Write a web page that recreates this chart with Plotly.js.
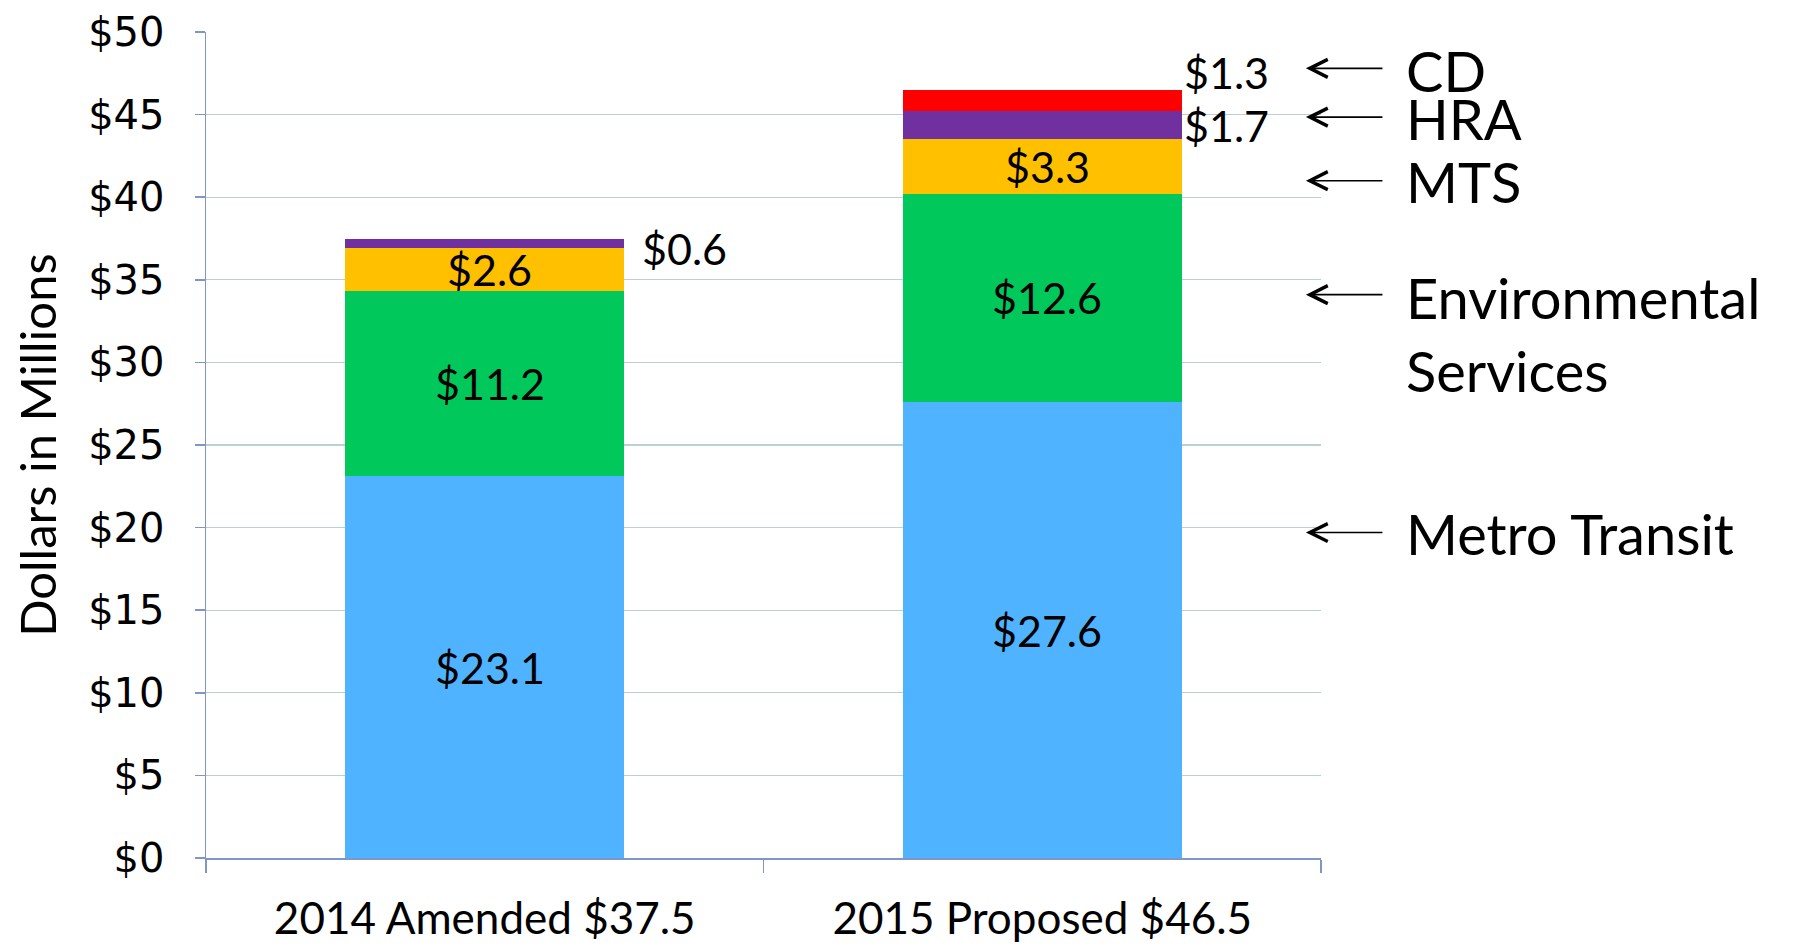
<!DOCTYPE html>
<html>
<head>
<meta charset="utf-8">
<script src="https://cdn.plot.ly/plotly-3.0.1.min.js"></script>
<style>
  html, body { margin: 0; padding: 0; background: #ffffff; }
  #chart { width: 1797px; height: 952px; }
</style>
</head>
<body>
<div id="chart"></div>
<script>
// ---- Data ----
const categories = ["2014 Amended $37.5", "2015 Proposed $46.5"];
const metroTransit = [23.1, 27.6];
const environmentalServices = [11.2, 12.6];
const mts = [2.6, 3.3];
const hra = [0.6, 1.7];
const cd = [0, 1.3];
const yTickValues = [0, 5, 10, 15, 20, 25, 30, 35, 40, 45, 50];
const yTickLabels = ["$0", "$5", "$10", "$15", "$20", "$25", "$30", "$35", "$40", "$45", "$50"];
const seriesNames = ["Metro Transit", "Environmental Services", "MTS", "HRA", "CD"];
const sideLabels = ["CD", "HRA", "MTS", "Environmental<br>Services", "Metro Transit"];

// ---- Styles ----
const colors = ["#4FB3FF", "#00C85A", "#FFC000", "#7030A0", "#FF0000"];
const labelFont = { family: "Lato, 'Open Sans', sans-serif", size: 43, color: "#000000" };
const seriesList = [metroTransit, environmentalServices, mts, hra, cd];

const traces = seriesList.map((vals, i) => ({
  type: "bar",
  name: seriesNames[i],
  x: categories,
  y: vals,
  marker: { color: colors[i], line: { width: 0 } },
  hoverinfo: "skip"
}));

// ---- Data labels computed from the arrays ----
const annotations = [];
const fmt = v => "$" + v.toFixed(1);
categories.forEach((cat, ci) => {
  let base = 0;
  seriesList.forEach((vals, si) => {
    const v = vals[ci];
    const mid = base + v / 2;
    if (v > 0) {
      if (si <= 2) {
        annotations.push({ x: cat, y: mid, xref: "x", yref: "y", text: fmt(v),
          showarrow: false, font: labelFont, xanchor: "center", yanchor: "middle",
          xshift: 5 });
      } else {
        // small segments: labelled beside the bar
        let xs = 140, ys = 0;
        if (ci === 0) { xs = 155; ys = -5; }
        if (si === 4) { ys = 28; }
        annotations.push({ x: cat, y: mid, xref: "x", yref: "y", text: fmt(v),
          showarrow: false, font: labelFont, xanchor: "left", yanchor: "middle",
          xshift: xs, yshift: ys });
      }
    }
    base += v;
  });
});

// ---- Side labels with arrows ----
const sideArrowY = [47.8, 44.85, 41.0, 34.1, 19.7];
const sideTextY = [47.7, 44.75, 40.95, 31.7, 19.65];
sideLabels.forEach((lab, i) => {
  annotations.push({ x: 0.9865, y: sideArrowY[i], xref: "paper", yref: "y",
    text: "", showarrow: true, ax: 78, ay: 0, axref: "pixel", ayref: "pixel",
    arrowhead: 5, arrowsize: 2.2, arrowwidth: 1.6, arrowcolor: "#000000",
    standoff: 0, startstandoff: 0 });
  annotations.push({ x: 1.0744, y: sideTextY[i], xref: "paper", yref: "y",
    text: lab, showarrow: false, xanchor: "left", yanchor: "middle", align: "left",
    font: { family: "Lato, 'Open Sans', sans-serif", size: 56, color: "#000000" } });
});

const layout = {
  width: 1797,
  height: 952,
  barmode: "stack",
  bargap: 0.5,
  showlegend: false,
  paper_bgcolor: "#ffffff",
  plot_bgcolor: "#ffffff",
  margin: { l: 206, r: 476, t: 32, b: 94, pad: 0 },
  xaxis: {
    type: "category",
    showline: true,
    linecolor: "#8096C8",
    linewidth: 1.5,
    ticks: "outside",
    tickson: "boundaries",
    ticklen: 13,
    tickcolor: "#8096C8",
    tickwidth: 1.5,
    showgrid: false,
    tickfont: { family: "Lato, 'Open Sans', sans-serif", size: 44, color: "#000000" },
    ticklabelstandoff: 22
  },
  yaxis: {
    range: [0, 50],
    tickvals: yTickValues,
    ticktext: yTickLabels,
    showline: true,
    linecolor: "#8096C8",
    linewidth: 1.5,
    ticks: "outside",
    ticklen: 10,
    tickcolor: "#8096C8",
    tickwidth: 1.5,
    showgrid: true,
    gridcolor: "#BCCFD3",
    gridwidth: 1.3,
    zeroline: false,
    tickfont: { family: "'DejaVu Sans', sans-serif", size: 40, color: "#000000" },
    ticklabelstandoff: 22,
    title: { text: "Dollars in Millions", standoff: 16,
      font: { family: "Lato, 'Open Sans', sans-serif", size: 49, color: "#000000" } }
  },
  annotations: annotations
};

Plotly.newPlot("chart", traces, layout, { displayModeBar: false, staticPlot: true });
</script>
</body>
</html>
